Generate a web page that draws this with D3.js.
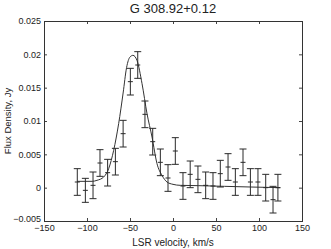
<!DOCTYPE html>
<html>
<head>
<meta charset="utf-8">
<script src="https://cdn.jsdelivr.net/npm/d3@7"></script>
<style>
  body { margin: 0; background: #fff; }
  text { font-family: "Liberation Sans", Arial, sans-serif; fill: #222; }
</style>
</head>
<body>
<div id="canvas"></div>
<script>
// measured spectrum (LSR velocity km/s, flux Jy, 1-sigma error)
const velocity = [-111.3, -101.9, -93.0, -84.9, -76.0, -67.0, -58.0, -49.6, -41.0, -32.6,
  -23.6, -14.7, -5.8, 2.7, 11.6, 20.0, 29.0, 38.0, 46.5, 55.0,
  64.0, 72.5, 81.4, 90.0, 98.8, 107.8, 116.3, 122.0];
const flux = [0.00085, -0.0004, 0.00035, 0.0037, 0.00225, 0.0039, 0.0081, 0.0159, 0.0184, 0.011,
  0.0069, 0.0038, 0.00145, 0.0055, 0.00025, 0.002, 0.00125, 0.00035, 0.00025, 0.0021,
  0.0031, 0.00085, 0.0038, 0.00085, 0.00085, 0.0, -0.0018, 0.0];
const fluxErr = [0.002, 0.0018, 0.002, 0.002, 0.002, 0.002, 0.002, 0.002, 0.002, 0.002,
  0.002, 0.002, 0.002, 0.002, 0.002, 0.002, 0.002, 0.002, 0.002, 0.002,
  0.002, 0.002, 0.002, 0.002, 0.002, 0.002, 0.002, 0.002];

// fitted profile
const fitVelocity = [-111.5, -94, -88.4, -80.6, -74.8, -69, -63.2, -58, -54, -50,
  -46.5, -41.9, -36, -30.2, -24.4, -18.6, -12.8, -7, 0, 8.5,
  30, 60, 90, 124.8];
const fitFlux = [0.00095, 0.00095, 0.0011, 0.0016, 0.00285, 0.0056, 0.0096, 0.0142, 0.0180, 0.0196,
  0.01985, 0.0191, 0.0156, 0.0111, 0.0076, 0.0036, 0.00185, 0.00085, 0.0005, 0.00035,
  0.0003, 0.0002, 0.0001, 0.0];

const xTicks = [-150, -100, -50, 0, 50, 100, 150];
const yTicks = [-0.005, 0, 0.005, 0.01, 0.015, 0.02, 0.025];
const title = "G 308.92+0.12";

const width = 331;
const height = 249;
const margin = { top: 21, left: 44, bottom: 28, right: 29 };
const iwidth = width - margin.left - margin.right;
const iheight = height - margin.top - margin.bottom;

const svg = d3.select("#canvas").append("svg")
  .attr("width", width)
  .attr("height", height);

const g = svg.append("g")
  .attr("transform", `translate(${margin.left},${margin.top})`);

const x = d3.scaleLinear().domain([-150, 150]).range([0, iwidth]);
const y = d3.scaleLinear().domain([-0.005, 0.025]).range([iheight, 0]);

const fmt = (d) => (d === 0 ? "0" : String(d).replace("-", "\u2212"));

// axes, matlab style: ticks pointing inwards on all four sides
const xb = g.append("g")
  .attr("transform", `translate(0,${iheight})`)
  .call(d3.axisBottom(x).tickValues(xTicks).tickFormat(fmt).tickSizeInner(-3).tickSizeOuter(0).tickPadding(4));
const xt = g.append("g")
  .call(d3.axisTop(x).tickValues(xTicks).tickFormat("").tickSizeInner(-3).tickSizeOuter(0));
const yl = g.append("g")
  .call(d3.axisLeft(y).tickValues(yTicks).tickFormat(fmt).tickSizeInner(-3).tickSizeOuter(0).tickPadding(3));
const yr = g.append("g")
  .attr("transform", `translate(${iwidth},0)`)
  .call(d3.axisRight(y).tickValues(yTicks).tickFormat("").tickSizeInner(-3).tickSizeOuter(0));

[xb, xt, yl, yr].forEach((a) => {
  a.select(".domain").remove();
  a.selectAll("line").attr("stroke", "#444");
  a.selectAll("text").attr("font-size", 9).attr("fill", "#222")
    .attr("font-family", "Liberation Sans, Arial, sans-serif");
});
// lowest y label sits a bit higher, as in the original
yl.selectAll(".tick").filter((d) => d === -0.005).select("text").attr("dy", "0.1em");

g.append("rect")
  .attr("x", 0.5).attr("y", 0.5)
  .attr("width", iwidth).attr("height", iheight)
  .attr("fill", "none").attr("stroke", "#333");

// fitted line
const line = d3.line()
  .x((d, i) => x(fitVelocity[i]))
  .y((d) => y(d))
  .curve(d3.curveMonotoneX);

g.append("path")
  .datum(fitFlux)
  .attr("d", line)
  .attr("fill", "none")
  .attr("stroke", "#333")
  .attr("stroke-width", 1);

// error bars
const pts = g.selectAll(".eb").data(flux).enter().append("g").attr("class", "eb")
  .attr("stroke", "#2a2a2a").attr("stroke-width", 1);

pts.append("line")
  .attr("x1", (d, i) => x(velocity[i])).attr("x2", (d, i) => x(velocity[i]))
  .attr("y1", (d, i) => y(d - fluxErr[i])).attr("y2", (d, i) => y(d + fluxErr[i]));
pts.append("line")
  .attr("x1", (d, i) => x(velocity[i]) - 3.5).attr("x2", (d, i) => x(velocity[i]) + 3.5)
  .attr("y1", (d, i) => y(d - fluxErr[i])).attr("y2", (d, i) => y(d - fluxErr[i]));
pts.append("line")
  .attr("x1", (d, i) => x(velocity[i]) - 3.5).attr("x2", (d, i) => x(velocity[i]) + 3.5)
  .attr("y1", (d, i) => y(d + fluxErr[i])).attr("y2", (d, i) => y(d + fluxErr[i]));
pts.append("line")
  .attr("x1", (d, i) => x(velocity[i]) - 2.5).attr("x2", (d, i) => x(velocity[i]) + 2.5)
  .attr("y1", (d) => y(d)).attr("y2", (d) => y(d));

// labels
svg.append("text")
  .attr("x", margin.left + iwidth / 2).attr("y", 13)
  .attr("text-anchor", "middle").attr("font-size", 13)
  .text(title);

svg.append("text")
  .attr("x", margin.left + iwidth / 2).attr("y", 246)
  .attr("text-anchor", "middle").attr("font-size", 10)
  .text("LSR velocity, km/s");

svg.append("text")
  .attr("transform", `translate(11,${margin.top + iheight / 2}) rotate(-90)`)
  .attr("text-anchor", "middle").attr("font-size", 9.5)
  .text("Flux Density, Jy");
</script>
</body>
</html>
